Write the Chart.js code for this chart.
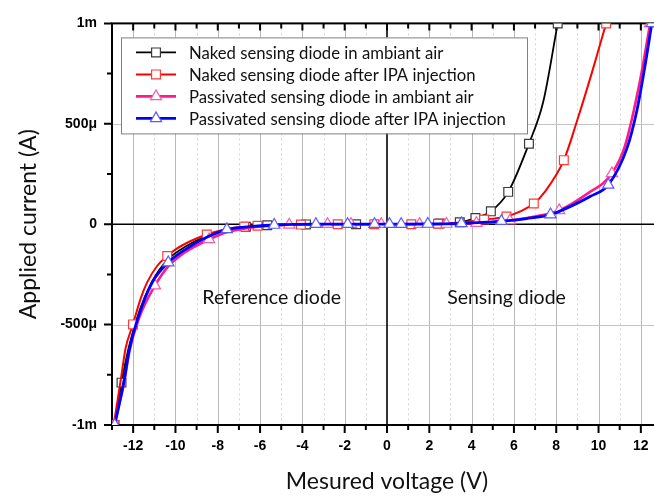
<!DOCTYPE html>
<html>
<head>
<meta charset="utf-8">
<script src="https://cdn.jsdelivr.net/npm/chart.js@4.4.1/dist/chart.umd.min.js"></script>
<style>
  html, body { margin: 0; padding: 0; background: #fff; overflow: hidden; }
  #wrap { width: 680px; height: 501px; }
</style>
</head>
<body>
<div id="wrap"><canvas id="ivChart" width="680" height="501"></canvas></div>
<script>
// values, current in µA
const nakedAirV = [-12.88, -12.55, -12.2, -11.7, -11.1, -10.4, -9.5, -8.5, -7.6, -6.67, -5.66, -3.83, -1.46, 0.6, 2.49, 3.44, 4.18, 4.91, 5.73, 6.71, 7.38, 8.07];
const nakedAirI = [-1000, -789, -610, -430, -285, -180, -110, -58, -30, -13, -5, -1, 0, 0, 3, 10, 31, 64, 161, 401, 607, 1000];
const nakedAirMark = [1, 1, 0, 0, 0, 0, 0, 0, 0, 1, 1, 1, 1, 0, 1, 1, 1, 1, 1, 1, 0, 1];

const nakedIpaV = [-12.92, -12.55, -12.36, -12.01, -11.65, -11.34, -10.86, -10.39, -9.99, -9.3, -8.52, -7.6, -6.75, -6.12, -4.07, -2.33, -0.6, 1.15, 2.41, 3.5, 4.59, 5.65, 6.94, 7.45, 8.36, 9.0, 9.7, 10.36];
const nakedIpaI = [-1000, -750, -619, -499, -372, -290, -207, -158, -125, -85, -51, -25, -12, -8, -2, 0, 0, 0, 2, 8, 23, 38, 103, 160, 319, 520, 760, 1000];
const nakedIpaMark = [1, 0, 0, 1, 0, 0, 0, 1, 0, 0, 1, 0, 1, 1, 1, 1, 1, 1, 1, 0, 1, 1, 1, 0, 1, 0, 0, 1];

const passAirV = [-12.9, -12.44, -12.17, -11.73, -10.97, -10.34, -9.52, -8.41, -7.5, -6.5, -4.62, -2.81, -1.70, -0.27, 1.54, 2.81, 4.23, 5.81, 7.0, 8.14, 9.44, 10.63, 11.25, 11.93, 12.44];
const passAirI = [-1000, -795, -630, -470, -306, -210, -138, -76, -38, -17, -3, 0, 0, 0, 0, 1, 5, 18, 38, 69, 150, 253, 390, 698, 1000];
const passAirMark = [1, 0, 0, 0, 1, 0, 0, 1, 0, 0, 1, 1, 1, 1, 1, 1, 1, 1, 0, 1, 0, 1, 0, 0, 1];

const passIpaV = [-12.87, -12.44, -12.17, -11.73, -11.10, -10.34, -9.52, -8.57, -7.57, -6.5, -5.33, -3.36, -1.86, -0.59, 0.12, 0.67, 1.93, 3.52, 5.41, 6.6, 7.73, 8.6, 9.6, 10.46, 11.35, 11.8, 12.15, 12.52];
const passIpaI = [-1000, -784, -619, -454, -290, -191, -125, -68, -26, -12, -4, 0, 0, 0, 0, 0, 1, 4, 15, 28, 48, 85, 138, 196, 380, 560, 760, 1000];
const passIpaMark = [1, 0, 0, 0, 0, 1, 0, 0, 1, 0, 1, 1, 1, 1, 1, 1, 1, 1, 1, 0, 1, 0, 0, 1, 0, 0, 0, 1];

const seriesNames = [
  "Naked sensing diode in ambiant air",
  "Naked sensing diode after IPA injection",
  "Passivated sensing diode in ambiant air",
  "Passivated sensing diode after IPA injection"
];

const yLabelValues = [-1000, -500, 0, 500, 1000];
const yLabelText = ["-1m", "-500\u03bc", "0", "500\u03bc", "1m"];

const regionText = ["Reference diode", "Sensing diode"];
const regionV = [-5.45, 5.65];
const regionI = [-365, -365];

const FONT = "Lato, 'Open Sans', sans-serif";

function pts(v, i) { return v.map((x, k) => ({ x: x, y: i[k] })); }

function series(label, v, i, marks, line, mark, lw, style, order) {
  return {
    label: label,
    data: pts(v, i),
    marks: marks,
    borderColor: line,
    borderWidth: lw,
    pointStyle: style,
    pointBorderColor: mark,
    pointBackgroundColor: "#fff",
    pointBorderWidth: 1.2,
    pointRadius: c => (c.dataset.marks[c.dataIndex] ? (style === "rect" ? 6.2 : 6.5) : 0),
    pointHoverRadius: 0,
    cubicInterpolationMode: "monotone",
    fill: false,
    order: order
  };
}

function marker(ctx, style, x, y, color) {
  ctx.save();
  ctx.fillStyle = "#fff";
  ctx.strokeStyle = color;
  ctx.lineWidth = 1.2;
  ctx.beginPath();
  if (style === "rect") {
    ctx.rect(x - 4.4, y - 4.4, 8.8, 8.8);
  } else {
    ctx.moveTo(x, y - 6.5);
    ctx.lineTo(x + 5.6, y + 3.25);
    ctx.lineTo(x - 5.6, y + 3.25);
    ctx.closePath();
  }
  ctx.fill();
  ctx.stroke();
  ctx.restore();
}

const gridPlugin = {
  id: "gridPlugin",
  beforeDatasetsDraw(chart) {
    const { ctx, chartArea: a, scales: { x, y } } = chart;
    ctx.save();
    ctx.beginPath();
    ctx.rect(a.left, a.top, a.right - a.left, a.bottom - a.top);
    ctx.clip();
    // vertical grid
    x.ticks.forEach(t => {
      const px = Math.round(x.getPixelForValue(t.value)) + 0.5;
      if (t.value === 0) return;
      ctx.beginPath();
      if (t.value % 2 === 0) {
        ctx.setLineDash([]);
        ctx.strokeStyle = "#b8b8b8";
      } else {
        ctx.setLineDash([2, 3]);
        ctx.strokeStyle = "#d4d4d4";
      }
      ctx.lineWidth = 1;
      ctx.moveTo(px, a.top);
      ctx.lineTo(px, a.bottom);
      ctx.stroke();
    });
    ctx.setLineDash([]);
    // horizontal grid at ±500µ
    y.ticks.forEach(t => {
      if (t.value === 500 || t.value === -500) {
        const py = Math.round(y.getPixelForValue(t.value)) + 0.5;
        ctx.beginPath();
        ctx.strokeStyle = "#c4c4c4";
        ctx.lineWidth = 1;
        ctx.moveTo(a.left, py);
        ctx.lineTo(a.right, py);
        ctx.stroke();
      }
    });
    // zero lines
    ctx.strokeStyle = "#000";
    ctx.lineWidth = 1.6;
    const x0 = x.getPixelForValue(0), y0 = y.getPixelForValue(0);
    ctx.beginPath();
    ctx.moveTo(x0, a.top); ctx.lineTo(x0, a.bottom);
    ctx.moveTo(a.left, y0); ctx.lineTo(a.right, y0);
    ctx.stroke();
    ctx.restore();

    // frame and tick marks
    ctx.save();
    ctx.strokeStyle = "#000";
    ctx.lineWidth = 2;
    ctx.strokeRect(a.left, a.top, a.right - a.left, a.bottom - a.top);
    x.ticks.forEach(t => {
      const px = x.getPixelForValue(t.value);
      const major = t.value % 2 === 0;
      ctx.beginPath();
      ctx.moveTo(px, a.bottom); ctx.lineTo(px, a.bottom + (major ? 8 : 5));
      ctx.moveTo(px, a.top); ctx.lineTo(px, a.top + (major ? 7 : 5));
      ctx.stroke();
    });
    y.ticks.forEach(t => {
      const py = y.getPixelForValue(t.value);
      const major = t.value % 500 === 0;
      ctx.beginPath();
      ctx.moveTo(a.left, py); ctx.lineTo(a.left - (major ? 8 : 5), py);
      ctx.moveTo(a.right, py); ctx.lineTo(a.right - (major ? 7 : 5), py);
      ctx.stroke();
    });
    ctx.restore();
  },
  afterDatasetsDraw(chart) {
    const { ctx, chartArea: a, scales: { x, y } } = chart;
    // region labels
    ctx.save();
    ctx.fillStyle = "#111";
    ctx.font = "19.5px " + FONT;
    ctx.textAlign = "center";
    ctx.textBaseline = "middle";
    regionText.forEach((s, k) => {
      ctx.fillText(s, x.getPixelForValue(regionV[k]), y.getPixelForValue(regionI[k]));
    });
    ctx.restore();

    // legend box
    const bx = a.left + 9, by = a.top + 14, bw = 406, bh = 96;
    ctx.save();
    ctx.fillStyle = "#fff";
    ctx.fillRect(bx, by, bw, bh);
    ctx.strokeStyle = "#808080";
    ctx.lineWidth = 1;
    ctx.strokeRect(bx + 0.5, by + 0.5, bw, bh);
    ctx.font = "16.7px " + FONT;
    ctx.textBaseline = "middle";
    chart.data.datasets.forEach((d, k) => {
      const ry = by + 15 + k * 22;
      ctx.strokeStyle = d.borderColor;
      ctx.lineWidth = d.borderWidth;
      ctx.beginPath();
      ctx.moveTo(bx + 15, ry); ctx.lineTo(bx + 55, ry);
      ctx.stroke();
      marker(ctx, d.pointStyle, bx + 35, ry, d.pointBorderColor);
      ctx.fillStyle = "#111";
      ctx.fillText(d.label, bx + 68, ry + 1);
    });
    ctx.restore();
  }
};

new Chart(document.getElementById("ivChart"), {
  type: "line",
  data: {
    datasets: [
      series(seriesNames[0], nakedAirV, nakedAirI, nakedAirMark, "#000000", "#3a3a3a", 1.8, "rect", 3),
      series(seriesNames[1], nakedIpaV, nakedIpaI, nakedIpaMark, "#ff0000", "#ff3a3a", 2, "rect", 2),
      series(seriesNames[2], passAirV, passAirI, passAirMark, "#ff1a8c", "#ff5aaa", 2.6, "triangle", 1),
      series(seriesNames[3], passIpaV, passIpaI, passIpaMark, "#0000ff", "#5a5aff", 2.8, "triangle", 0)
    ]
  },
  options: {
    responsive: false,
    animation: false,
    layout: { padding: { top: 20, right: 18, left: 0, bottom: 0 } },
    plugins: { legend: { display: false }, tooltip: { enabled: false } },
    scales: {
      x: {
        type: "linear",
        min: -13,
        max: 13,
        afterFit: s => { s.height = 76; },
        grid: { display: false, drawTicks: false },
        border: { display: false },
        ticks: {
          stepSize: 1,
          autoSkip: false,
          maxRotation: 0,
          padding: 13,
          color: "#000",
          font: { family: "'Liberation Sans', Arial, sans-serif", size: 14, weight: "bold" },
          callback: v => (v % 2 === 0 && Math.abs(v) <= 12 ? String(v) : "")
        },
        title: {
          display: true,
          text: "Mesured voltage (V)",
          color: "#111",
          font: { family: FONT, size: 23 },
          padding: { top: 0, bottom: 6 }
        }
      },
      y: {
        type: "linear",
        min: -1000,
        max: 1000,
        afterFit: s => { s.width = 112; },
        grid: { display: false, drawTicks: false },
        border: { display: false },
        ticks: {
          stepSize: 250,
          autoSkip: false,
          padding: 15,
          color: "#000",
          font: { family: "'Liberation Sans', Arial, sans-serif", size: 14, weight: "bold" },
          callback: v => {
            const k = yLabelValues.indexOf(v);
            return k >= 0 ? yLabelText[k] : "";
          }
        },
        title: {
          display: true,
          text: "Applied current (A)",
          color: "#111",
          font: { family: FONT, size: 23 },
          padding: { top: 15, bottom: 0 }
        }
      }
    }
  },
  plugins: [gridPlugin]
});
</script>
</body>
</html>
